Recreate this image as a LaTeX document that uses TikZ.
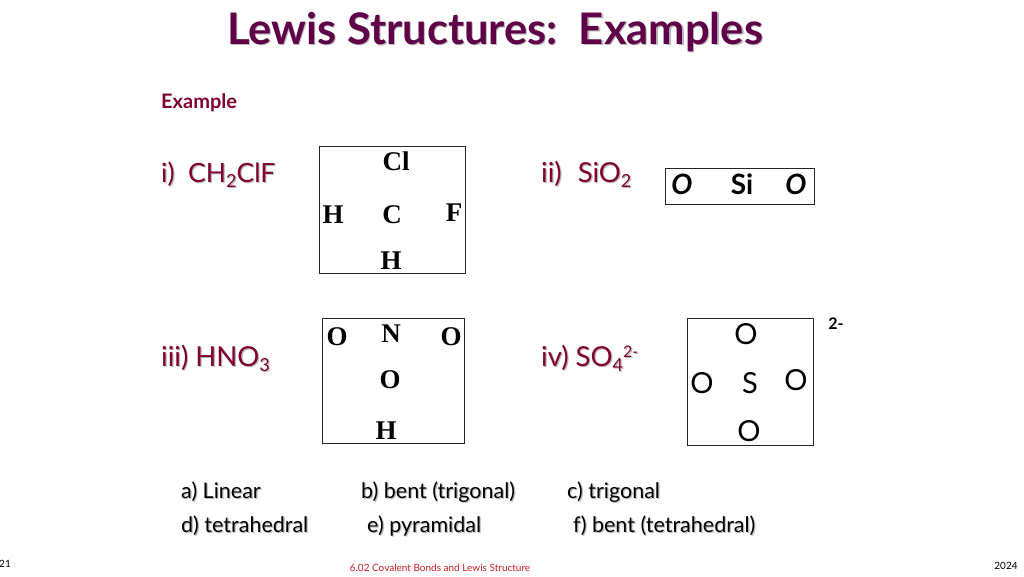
\documentclass[tikz,border=0pt]{standalone}
\usepackage{fontspec}
\setmainfont{Liberation Serif}
\newfontfamily\handfont{Lato}
\definecolor{titlecol}{RGB}{96,0,72}
\definecolor{labelcol}{RGB}{128,0,48}
\definecolor{footcol}{RGB}{200,30,40}
\newcommand{\shadowed}[2][gray!55]{\makebox[0pt][l]{\hspace{1.2pt}\raisebox{-1.2pt}{\color{#1}#2}}#2}
\newcommand{\lowered}[1]{\raisebox{-5pt}{\fontsize{18}{20}\selectfont #1}}
\newcommand{\raised}[1]{\raisebox{9pt}{\fontsize{16}{18}\selectfont #1}}
\begin{document}
\begin{tikzpicture}[x=1pt,y=-1pt]
        \tikzset{title/.style = {font=\handfont\bfseries\fontsize{43.5}{46}\selectfont,text=titlecol,anchor=base,inner sep=0pt}}
        \tikzset{label/.style = {font=\handfont\fontsize{26.5}{30}\selectfont,text=labelcol,anchor=base west,inner sep=0pt}}
        \tikzset{biglabel/.style = {label,font=\handfont\fontsize{27.5}{30}\selectfont}}
        \tikzset{choice/.style = {font=\handfont\fontsize{21.5}{25}\selectfont,text=black,anchor=base west,inner sep=0pt}}
        \tikzset{box/.style = {draw=black!85,line width=1pt,inner sep=0pt}}
        \tikzset{atom/.style = {font=\bfseries\fontsize{27}{30}\selectfont,inner sep=0pt}}
        \tikzset{hand/.style = {font=\handfont\fontsize{29}{32}\selectfont,inner sep=0pt}}
        \tikzset{small/.style = {font=\handfont\fontsize{10}{12}\selectfont,inner sep=0pt}}
        \useasboundingbox (0,0) rectangle (1024,576);
        \fill[white] (0,0) rectangle (1024,576);
        % heading
        \node[title] (heading) at (495,44) {\shadowed{Lewis Structures:\ \ Examples}};
        \node[font=\handfont\bfseries\fontsize{20}{24}\selectfont,text=labelcol,anchor=base west,inner sep=0pt] (example) at (161,108) {Example};
        % formulas
        \node[label] (formulaa) at (161,182) {\shadowed{i)\ \ CH\lowered{2}ClF}};
        \node[biglabel] (formulab) at (541,182) {\shadowed{ii)\ \ \hspace{2pt}SiO\lowered{2}}};
        \node[biglabel] (formulac) at (161,366) {\shadowed{iii) HNO\lowered{3}}};
        \node[biglabel] (formulad) at (541,366) {\shadowed{iv) SO\lowered{4}\raised{2-}}};
        % boxes
        \node[box,minimum width=146pt,minimum height=127pt] (boxa) at (392,209.5) {};
        \node[box,minimum width=149pt,minimum height=36pt] (boxb) at (739.5,186) {};
        \node[box,minimum width=142pt,minimum height=125pt] (boxc) at (393,380.5) {};
        \node[box,minimum width=126pt,minimum height=127pt] (boxd) at (750,381.5) {};
        % atoms of the first box
        \node[atom] (cl) at (396,161) {Cl};
        \node[atom] (ha) at (333,215) {H};
        \node[atom] (c) at (392,215) {C};
        \node[atom] (f) at (454,213) {F};
        \node[atom] (hb) at (391,261) {H};
        % atoms of the second box
        \node[font=\handfont\bfseries\itshape\fontsize{28}{30}\selectfont,inner sep=0pt] (oa) at (682,184) {O};
        \node[font=\handfont\bfseries\fontsize{28}{30}\selectfont,inner sep=0pt] (si) at (742,184) {Si};
        \node[font=\handfont\bfseries\itshape\fontsize{28}{30}\selectfont,inner sep=0pt] (ob) at (796,184) {O};
        % atoms of the third box
        \node[atom] (oc) at (337,337) {O};
        \node[atom] (n) at (391,334) {N};
        \node[atom] (od) at (451,337) {O};
        \node[atom] (oe) at (390,380) {O};
        \node[atom] (hc) at (386,431) {H};
        % atoms of the fourth box
        \node[hand] (of) at (746,334) {O};
        \node[hand] (og) at (702,383) {O};
        \node[hand] (s) at (750,383) {S};
        \node[hand] (oh) at (796,380) {O};
        \node[hand] (oi) at (749,431) {O};
        \node[font=\handfont\bfseries\fontsize{16}{18}\selectfont,inner sep=0pt] (charge) at (836,324) {2-};
        % shape choices
        \node[choice] (linear) at (181,498) {\shadowed{a) Linear}};
        \node[choice] (benta) at (361,498) {\shadowed{b) bent (trigonal)}};
        \node[choice] (trigonal) at (567,498) {\shadowed{c) trigonal}};
        \node[choice] (tetra) at (181,532) {\shadowed{d) tetrahedral}};
        \node[choice] (pyramidal) at (367,532) {\shadowed{e) pyramidal}};
        \node[choice] (bentb) at (573,532) {\shadowed{f) bent (tetrahedral)}};
        % footer
        \node[small] (page) at (5,564) {21};
        \node[small,text=footcol] (course) at (440,568) {6.02 Covalent Bonds and Lewis Structure};
        \node[small] (year) at (1006,566) {2024};
\end{tikzpicture}
\end{document}
